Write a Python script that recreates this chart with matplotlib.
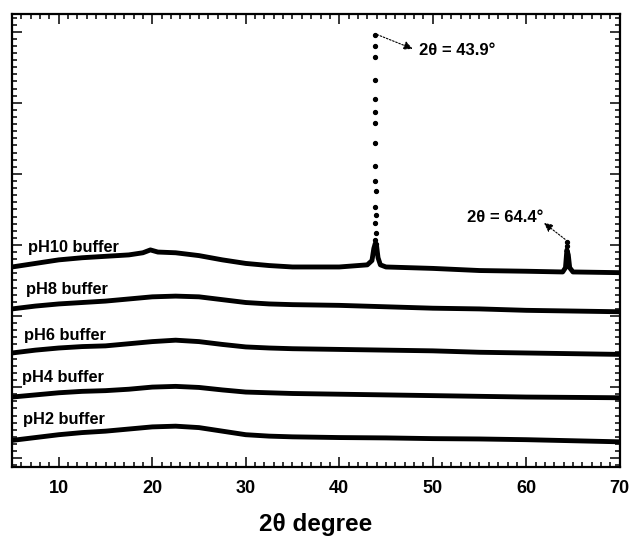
# XRD patterns of the samples after soaking in buffers of different pH
import matplotlib
matplotlib.use("Agg")
import matplotlib.pyplot as plt
from matplotlib.ticker import MultipleLocator

#%% --- Data (arbitrary stacked intensity) ---

two_theta = [5, 7.5, 10, 12.5, 15, 17.5, 20, 22.5, 25, 27.5, 30, 32.5, 35,
             40, 45, 50, 55, 60, 65, 70]

ph2 = [0.25, 0.29, 0.33, 0.36, 0.38, 0.41, 0.44, 0.45, 0.43, 0.38, 0.33, 0.31,
       0.30, 0.29, 0.285, 0.275, 0.27, 0.26, 0.245, 0.23]
ph4 = [0.86, 0.89, 0.92, 0.94, 0.95, 0.97, 1.00, 1.01, 0.995, 0.96, 0.93, 0.92,
       0.91, 0.90, 0.89, 0.88, 0.87, 0.86, 0.855, 0.85]
ph6 = [1.48, 1.52, 1.55, 1.57, 1.58, 1.61, 1.64, 1.66, 1.64, 1.60, 1.565, 1.55,
       1.54, 1.53, 1.52, 1.51, 1.49, 1.48, 1.47, 1.46]
ph8 = [2.10, 2.14, 2.17, 2.19, 2.21, 2.24, 2.27, 2.28, 2.27, 2.23, 2.19, 2.17,
       2.16, 2.15, 2.13, 2.11, 2.10, 2.08, 2.07, 2.06]

# pH10 has its own grid because of the two crystalline peaks
two_theta_ph10 = [5, 7.5, 10, 12.5, 15, 17.5, 19, 19.8, 20.6, 22.5, 25, 27.5,
                  30, 32.5, 35, 40, 43, 43.5, 43.7, 43.85, 44.0, 44.15, 44.4,
                  45, 50, 55, 60, 63.9, 64.2, 64.35, 64.5, 64.65, 65, 70]
ph10 = [2.69, 2.74, 2.79, 2.82, 2.84, 2.86, 2.89, 2.93, 2.90, 2.89, 2.85, 2.79,
        2.74, 2.71, 2.69, 2.69, 2.72, 2.78, 2.95, 3.02, 2.98, 2.82, 2.72, 2.69,
        2.67, 2.64, 2.63, 2.62, 2.68, 2.93, 2.86, 2.68, 2.62, 2.61]

# sparse points on the tall 43.9 peak (and top of the 64.4 peak)
peak_x = [43.85, 43.83, 43.85, 43.85, 43.87, 43.85, 43.85, 43.86, 43.87,
          43.83, 43.88, 43.82, 43.9, 43.85, 43.88, 43.83, 43.9, 64.4, 64.4]
peak_y = [5.96, 5.80, 5.65, 5.32, 5.06, 4.87, 4.72, 4.44, 4.11, 3.90, 3.76,
          3.54, 3.42, 3.31, 3.17, 3.07, 3.01, 3.04, 2.99]

labels = ["pH2 buffer", "pH4 buffer", "pH6 buffer", "pH8 buffer", "pH10 buffer"]
label_x = [6.15, 6.05, 6.27, 6.5, 6.7]
label_y = [0.54, 1.13, 1.73, 2.37, 2.97]

#%% --- Visualize ---

plt.rcParams["font.family"] = ["Liberation Sans", "DejaVu Sans"]
plt.rcParams["font.weight"] = "bold"

fig = plt.figure(figsize=(6.33, 5.37), dpi=100)
ax = fig.add_axes([0.019, 0.130, 0.960, 0.844])

for series in [ph2, ph4, ph6, ph8]:
    ax.plot(two_theta, series, color="black", lw=3.5, solid_joinstyle="round")
ax.plot(two_theta_ph10, ph10, color="black", lw=3.5, solid_joinstyle="round")
ax.plot(peak_x, peak_y, ls="none", marker="o", ms=2.8, color="black")

for txt, lx, ly in zip(labels, label_x, label_y):
    ax.text(lx, ly, txt, fontsize=11.8, fontweight="bold", va="center", ha="left")

# peak annotations with dotted arrows
ax.text(48.5, 5.73, "2θ = 43.9°", fontsize=12, fontweight="bold",
        va="center", ha="left")
ax.annotate("", xy=(47.85, 5.76), xytext=(44.05, 5.96),
            arrowprops=dict(arrowstyle="-|>", ls=(0, (1.5, 1.5)), lw=0.8,
                            color="black", mutation_scale=13,
                            shrinkA=0, shrinkB=0))
ax.text(53.65, 3.38, "2θ = 64.4°", fontsize=12, fontweight="bold",
        va="center", ha="left")
ax.annotate("", xy=(61.9, 3.31), xytext=(64.15, 3.08),
            arrowprops=dict(arrowstyle="-|>", ls=(0, (1.5, 1.5)), lw=0.8,
                            color="black", mutation_scale=13,
                            shrinkA=0, shrinkB=0))

# axes
ax.set_xlim(5, 70)
ax.set_ylim(-0.127, 6.25)
ax.xaxis.set_major_locator(MultipleLocator(10))
ax.xaxis.set_minor_locator(MultipleLocator(1))
ax.yaxis.set_major_locator(MultipleLocator(1))
ax.yaxis.set_minor_locator(MultipleLocator(0.1))
ax.tick_params(which="both", direction="in", top=True, right=True, width=1.1)
ax.tick_params(which="major", length=7)
ax.tick_params(which="minor", length=3.5)
ax.tick_params(axis="x", labelsize=13, pad=9)
ax.tick_params(axis="y", labelleft=False)
for lab in ax.get_xticklabels():
    lab.set_fontweight("bold")
for sp in ax.spines.values():
    sp.set_linewidth(1.6)

ax.set_xlabel("2θ degree", fontsize=17.5, fontweight="bold", labelpad=12)

fig.savefig("out.png", dpi=100)
